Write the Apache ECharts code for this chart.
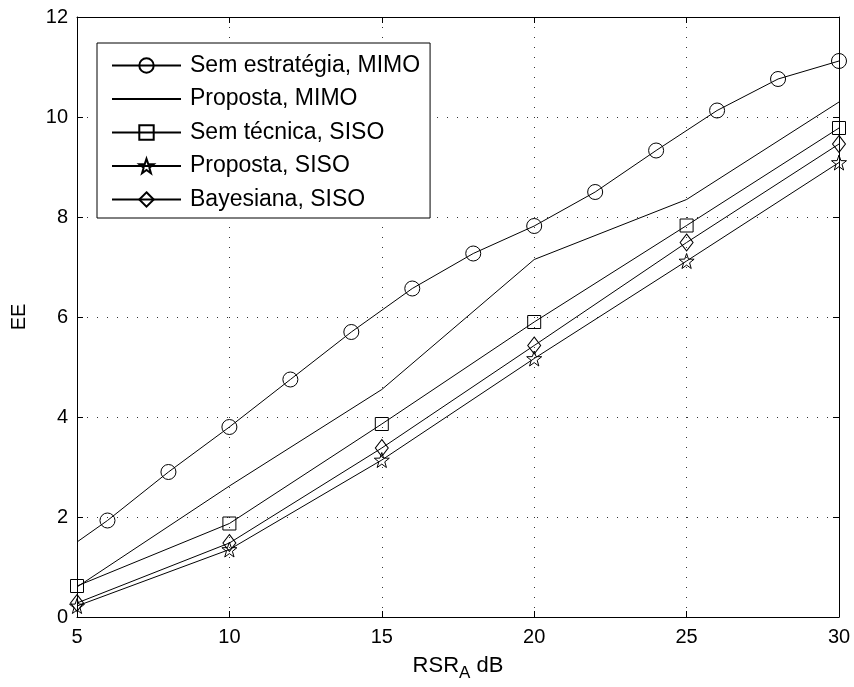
<!DOCTYPE html>
<html>
<head>
<meta charset="utf-8">
<script src="https://cdn.jsdelivr.net/npm/echarts@6/dist/echarts.min.js"></script>
<style>html,body{margin:0;padding:0;background:#fff;}#c{width:854px;height:687px;}</style>
</head>
<body>
<div id="c"></div>
<script>
const xCircle = [5, 6, 8, 10, 12, 14, 16, 18, 20, 22, 24, 26, 28, 30];
const semEstrategiaMIMO = [1.5, 1.93, 2.9, 3.8, 4.75, 5.7, 6.57, 7.27, 7.82, 8.5, 9.33, 10.13, 10.76, 11.12];
const xMain = [5, 10, 15, 20, 25, 30];
const propostaMIMO = [0.6, 2.62, 4.55, 7.15, 8.35, 10.3];
const semTecnicaSISO = [0.62, 1.87, 3.86, 5.9, 7.83, 9.78];
const propostaSISO = [0.22, 1.35, 3.14, 5.17, 7.12, 9.09];
const bayesianaSISO = [0.28, 1.48, 3.38, 5.43, 7.49, 9.46];
const seriesNames = ['Sem estratégia, MIMO', 'Proposta, MIMO', 'Sem técnica, SISO', 'Proposta, SISO', 'Bayesiana, SISO'];
const xTicks = [5, 10, 15, 20, 25, 30];
const yTicks = [0, 2, 4, 6, 8, 10, 12];

const FONT = "'Liberation Sans', Arial, Helvetica, sans-serif";
const starPath = 'path://M0,-10L2.35,-3.24L9.51,-3.09L3.8,1.24L5.88,8.09L0,4L-5.88,8.09L-3.8,1.24L-9.51,-3.09L-2.35,-3.24Z';

function pairs(xs, ys) { return xs.map((x, i) => [x, ys[i]]); }

const lineStyle = { color: '#000', width: 1 };
const hollow = { color: 'rgba(255,255,255,0)', borderColor: '#000', borderWidth: 1 };

const chart = echarts.init(document.getElementById('c'), null, { renderer: 'canvas' });

const gridLine = { show: true, lineStyle: { color: '#333', width: 1, type: [1, 9] } };

const option = {
  animation: false,
  backgroundColor: '#fff',
  textStyle: { fontFamily: FONT },
  grid: { left: 77, right: 15, top: 17, bottom: 68 },
  legend: {
    orient: 'vertical',
    left: 97, top: 43,
    backgroundColor: '#fff',
    borderColor: '#000', borderWidth: 1,
    padding: [11, 10, 7, 14],
    itemWidth: 69, itemHeight: 18,
    itemGap: 10.5,
    textStyle: { fontFamily: FONT, fontSize: 23, color: '#000', lineHeight: 21, padding: [0, 0, 0, 4] },
    data: seriesNames
  },
  xAxis: [{
    type: 'value', min: 5, max: 30, interval: 5,
    name: '{a|RSR}{s|A}{a| dB}', nameLocation: 'middle', nameGap: 33,
    nameTextStyle: { rich: {
      a: { fontFamily: FONT, fontSize: 22, color: '#000' },
      s: { fontFamily: FONT, fontSize: 17, color: '#000', padding: [15, 0, 0, 0] }
    } },
    axisLine: { show: true, onZero: false, lineStyle: { color: '#000', width: 1 } },
    axisTick: { show: true, inside: true, length: 6, lineStyle: { color: '#000' } },
    axisLabel: { color: '#000', fontSize: 20, fontFamily: FONT, margin: 10 },
    splitLine: gridLine
  }, {
    type: 'value', position: 'top', min: 5, max: 30, interval: 5,
    axisLine: { show: true, onZero: false, lineStyle: { color: '#000', width: 1 } },
    axisTick: { show: true, inside: true, length: 6, lineStyle: { color: '#000' } },
    axisLabel: { show: false }, splitLine: { show: false }
  }],
  yAxis: [{
    type: 'value', min: 0, max: 12, interval: 2,
    name: 'EE', nameLocation: 'middle', nameGap: 48, nameRotate: 90,
    nameTextStyle: { fontFamily: FONT, fontSize: 20, color: '#000' },
    axisLine: { show: true, onZero: false, lineStyle: { color: '#000', width: 1 } },
    axisTick: { show: true, inside: true, length: 6, lineStyle: { color: '#000' } },
    axisLabel: { color: '#000', fontSize: 20, fontFamily: FONT, margin: 9 },
    splitLine: gridLine
  }, {
    type: 'value', position: 'right', min: 0, max: 12, interval: 2,
    axisLine: { show: true, onZero: false, lineStyle: { color: '#000', width: 1 } },
    axisTick: { show: true, inside: true, length: 6, lineStyle: { color: '#000' } },
    axisLabel: { show: false }, splitLine: { show: false }
  }],
  series: [
    {
      name: seriesNames[0], type: 'line', symbol: 'circle', symbolSize: 15,
      lineStyle: lineStyle, itemStyle: hollow,
      data: pairs(xCircle, semEstrategiaMIMO).map((p, i) => i === 0 ? { value: p, symbol: 'none' } : p)
    },
    {
      name: seriesNames[1], type: 'line', symbol: 'circle', showSymbol: false,
      lineStyle: lineStyle, itemStyle: { color: 'rgba(0,0,0,0)', borderColor: 'rgba(0,0,0,0)', borderWidth: 0 },
      data: pairs(xMain, propostaMIMO)
    },
    {
      name: seriesNames[2], type: 'line', symbol: 'rect', symbolSize: 13,
      lineStyle: lineStyle, itemStyle: hollow,
      data: pairs(xMain, semTecnicaSISO)
    },
    {
      name: seriesNames[3], type: 'line', symbol: starPath, symbolSize: 15,
      lineStyle: lineStyle, itemStyle: hollow,
      data: pairs(xMain, propostaSISO)
    },
    {
      name: seriesNames[4], type: 'line', symbol: 'diamond', symbolSize: [13, 17],
      lineStyle: lineStyle, itemStyle: hollow,
      data: pairs(xMain, bayesianaSISO)
    }
  ]
};
chart.setOption(option);
</script>
</body>
</html>
